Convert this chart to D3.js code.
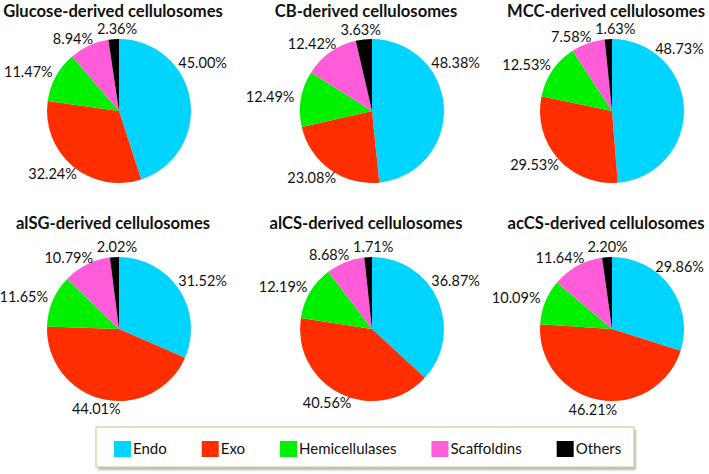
<!DOCTYPE html>
<html>
<head>
<meta charset="utf-8">
<script src="https://cdn.jsdelivr.net/npm/d3@7"></script>
<style>
  html, body { margin: 0; padding: 0; background: #fff; }
  svg { display: block; }
  text { font-family: Lato, "Open Sans", sans-serif; fill: #111; }
</style>
</head>
<body>
<svg id="chart" width="709" height="474"></svg>
<script>
// ---- data ----
const categories = ["Endo", "Exo", "Hemicellulases", "Scaffoldins", "Others"];
const titles = [
  "Glucose-derived cellulosomes",
  "CB-derived cellulosomes",
  "MCC-derived cellulosomes",
  "alSG-derived cellulosomes",
  "alCS-derived cellulosomes",
  "acCS-derived cellulosomes"
];
const glucose = [45.00, 32.24, 11.47, 8.94, 2.36];
const cb      = [48.38, 23.08, 12.49, 12.42, 3.63];
const mcc     = [48.73, 29.53, 12.53, 7.58, 1.63];
const alsg    = [31.52, 44.01, 11.65, 10.79, 2.02];
const alcs    = [36.87, 40.56, 12.19, 8.68, 1.71];
const accs    = [29.86, 46.21, 10.09, 11.64, 2.20];
const seriesList = [glucose, cb, mcc, alsg, alcs, accs];

// ---- style / layout ----
const colors = ["#00D4FF", "#FF2E00", "#00F000", "#FF5CDA", "#000000"];
const colX = [119, 372, 612];
const rowY = [111, 329];
const titleY = [16.5, 229];
const radius = 72;
const gap = 7;

const svg = d3.select("#chart");
const color = d3.scaleOrdinal().domain(categories).range(colors);
const pie = d3.pie().sort(null).value(d => d.value);
const arc = d3.arc().innerRadius(0).outerRadius(radius);

seriesList.forEach((vals, k) => {
  const col = k % 3, row = Math.floor(k / 3);
  const cx = colX[col], cy = rowY[row];
  const data = categories.map((c, i) => ({ cat: c, value: vals[i] }));
  const arcs = pie(data);

  svg.append("text")
    .attr("x", cx - 6).attr("y", titleY[row])
    .attr("text-anchor", "middle")
    .style("font-weight", "bold").style("font-size", "16.6px")
    .text(titles[k]);

  const g = svg.append("g").attr("transform", `translate(${cx},${cy})`);
  g.selectAll("path").data(arcs).join("path")
    .attr("d", arc)
    .attr("fill", d => color(d.data.cat));

  const h = 12;      // label box height used for collision checks
  const vOff = 3;    // vertical offset of label centre from anchor point
  const labels = arcs.map((d, i) => {
    const t = g.append("text")
      .attr("text-anchor", "middle")
      .attr("dy", "0.36em")
      .style("font-size", "14.5px")
      .text(d.data.value.toFixed(2) + "%");
    const w = t.node().getComputedTextLength();
    const mid = (d.startAngle + d.endAngle) / 2;
    const th = i === 0 ? Math.min(mid, 54 * Math.PI / 180) : mid;
    return { t, w, th, i };
  });
  const pos = (L) => {
    const s = Math.sin(L.th), c = Math.cos(L.th);
    const px = (radius + gap) * s, py = -(radius + gap) * c;
    return [px + (L.w / 2) * s, py - vOff * c];
  };
  // keep first label inside the picture
  const L0 = labels[0];
  while (cx + pos(L0)[0] + L0.w / 2 > 704 && L0.th > 0.1) L0.th -= 0.005;
  // push neighbouring labels apart
  const overlap = (A, B) => {
    const a = pos(A), b = pos(B);
    return Math.abs(a[0] - b[0]) < (A.w + B.w) / 2 + 3 && Math.abs(a[1] - b[1]) < h + 1;
  };
  for (let iter = 0; iter < 200; iter++) {
    let moved = false;
    for (let i = 1; i < labels.length - 1; i++) {
      const A = labels[i], B = labels[i + 1];
      if (overlap(A, B)) { A.th -= 0.006; B.th += 0.006; moved = true; }
    }
    if (!moved) break;
  }
  labels.forEach(L => {
    const p = pos(L);
    L.t.attr("x", p[0]).attr("y", p[1]);
  });
});

// ---- legend ----
const lg = svg.append("g");
const defs = svg.append("defs");
const f = defs.append("filter").attr("id", "sh").attr("x", "-5%").attr("y", "-20%").attr("width", "110%").attr("height", "150%");
f.append("feGaussianBlur").attr("stdDeviation", 1.2);
const lx = 96, ly = 427, lw = 538, lh = 40;
lg.append("rect").attr("x", lx + 2).attr("y", ly + 3).attr("width", lw).attr("height", lh)
  .attr("fill", "#b8b8b8").attr("filter", "url(#sh)");
lg.append("rect").attr("x", lx).attr("y", ly).attr("width", lw).attr("height", lh)
  .attr("fill", "#fff").attr("stroke", "#d6cba2").attr("stroke-width", 1.2);

let x = 114;
categories.forEach(c => {
  lg.append("rect").attr("x", x).attr("y", 441).attr("width", 17).attr("height", 16)
    .attr("fill", color(c));
  const t = lg.append("text").attr("x", x + 19).attr("y", 449).attr("dy", "0.36em")
    .style("font-size", "15px").text(c);
  const w = t.node().getComputedTextLength();
  x += 19 + w + 35;
});
</script>
</body>
</html>
